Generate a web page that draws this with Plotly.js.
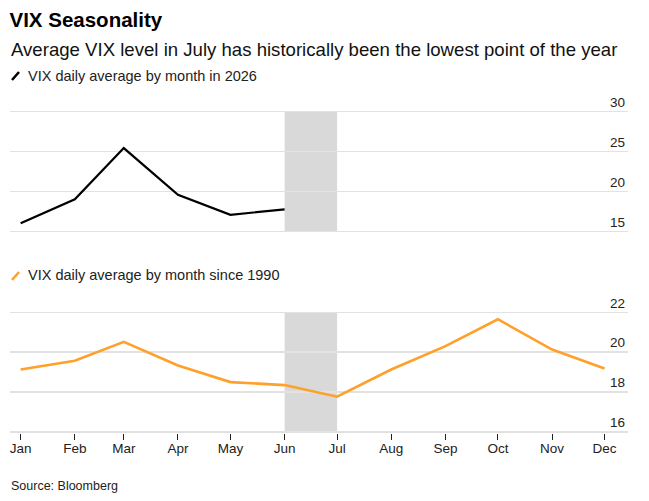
<!DOCTYPE html>
<html>
<head>
<meta charset="utf-8">
<script src="https://cdn.plot.ly/plotly-3.0.1.min.js"></script>
<style>html,body{margin:0;padding:0;background:#fff;}#chart{width:649px;height:501px;}</style>
</head>
<body>
<div id="chart"></div>
<script>
// Month start dates (x positions)
const months2026 = ["2026-01-01","2026-02-01","2026-03-01","2026-04-01","2026-05-01","2026-06-01"];
const monthsAll = ["2026-01-01","2026-02-01","2026-03-01","2026-04-01","2026-05-01","2026-06-01",
                   "2026-07-01","2026-08-01","2026-09-01","2026-10-01","2026-11-01","2026-12-01"];
const monthLabels = ["Jan","Feb","Mar","Apr","May","Jun","Jul","Aug","Sep","Oct","Nov","Dec"];
// VIX daily average by month in 2026
const vix2026 = [16.05, 19.05, 25.45, 19.6, 17.1, 17.8];
// VIX daily average by month since 1990
const vixSince1990 = [19.13, 19.57, 20.52, 19.33, 18.5, 18.35, 17.77, 19.13, 20.3, 21.65, 20.13, 19.18];
// Highlighted period (June)
const bandStart = "2026-06-01";
const bandEnd = "2026-07-01";
const topTicks = [15, 20, 25, 30];
const bottomTicks = [16, 18, 20, 22];

const font = "Liberation Sans, Arial, sans-serif";
const gridColor = "#e2e2e2";
const xRange = ["2025-12-25 22:00", "2026-12-14 10:00"];
const W = 649, H = 501;
const px = v => v / W;
const py = v => 1 - v / H;

const traces = [
  {x: months2026, y: vix2026, type: "scatter", mode: "lines",
   line: {color: "#000000", width: 2.2}, xaxis: "x2", yaxis: "y2", hoverinfo: "skip", showlegend: false},
  {x: monthsAll, y: vixSince1990, type: "scatter", mode: "lines",
   line: {color: "#ffa02a", width: 2.6}, xaxis: "x", yaxis: "y", hoverinfo: "skip", showlegend: false}
];

const yCommon = {
  side: "right", ticklabelposition: "inside top", showline: false, zeroline: false,
  gridcolor: gridColor, gridwidth: 1.5, ticks: "",
  tickfont: {family: font, size: 13.5, color: "#222"}, fixedrange: true
};

const layout = {
  width: W, height: H,
  margin: {l: 0, r: 0, t: 0, b: 0},
  paper_bgcolor: "#fff", plot_bgcolor: "#fff",
  showlegend: false,
  title: {text: "<b>VIX Seasonality</b>", x: px(9.5), xanchor: "left", xref: "paper",
          y: py(20), yanchor: "middle", yref: "paper",
          font: {family: font, size: 20.5, color: "#000"}},
  xaxis: {
    type: "date", range: xRange, domain: [px(10), px(628)], anchor: "y",
    tickvals: monthsAll, ticktext: monthLabels,
    ticks: "outside", ticklen: 6, tickcolor: "#222", tickwidth: 1, ticklabelstandoff: -3,
    showgrid: false, showline: false,
    tickfont: {family: font, size: 13.5, color: "#222"}, fixedrange: true
  },
  yaxis: Object.assign({}, yCommon, {
    range: [15.94, 23], domain: [py(433.2), py(292.3)], anchor: "x",
    tickvals: bottomTicks
  }),
  xaxis2: {
    type: "date", range: xRange, domain: [px(10), px(628)], anchor: "y2",
    showticklabels: false, ticks: "", showgrid: false,
    showline: false, fixedrange: true
  },
  yaxis2: Object.assign({}, yCommon, {
    range: [14.85, 32.5], domain: [py(232.9), py(91.7)], anchor: "x2",
    tickvals: topTicks
  }),
  shapes: [
    {type: "rect", xref: "x", yref: "y", x0: bandStart, x1: bandEnd, y0: 16, y1: 22,
     fillcolor: "rgba(160,160,160,0.4)", line: {width: 0}, layer: "below"},
    {type: "rect", xref: "x2", yref: "y2", x0: bandStart, x1: bandEnd, y0: 15, y1: 30,
     fillcolor: "rgba(160,160,160,0.4)", line: {width: 0}, layer: "below"},
    // legend key marks
    {type: "line", xref: "paper", yref: "paper", x0: px(12), x1: px(19), y0: py(80), y1: py(72),
     line: {color: "#000", width: 2.5}},
    {type: "line", xref: "paper", yref: "paper", x0: px(12), x1: px(19), y0: py(280), y1: py(272),
     line: {color: "#ffa02a", width: 2.5}}
  ],
  annotations: [
    {text: "Average VIX level in July has historically been the lowest point of the year",
     xref: "paper", yref: "paper", x: px(9), y: py(50), xanchor: "left", yanchor: "middle",
     showarrow: false, font: {family: font, size: 18.6, color: "#111"}},
    {text: "VIX daily average by month in 2026",
     xref: "paper", yref: "paper", x: px(26), y: py(76), xanchor: "left", yanchor: "middle",
     showarrow: false, font: {family: font, size: 14.5, color: "#222"}},
    {text: "VIX daily average by month since 1990",
     xref: "paper", yref: "paper", x: px(26), y: py(275), xanchor: "left", yanchor: "middle",
     showarrow: false, font: {family: font, size: 14.5, color: "#222"}},
    {text: "Source: Bloomberg",
     xref: "paper", yref: "paper", x: px(9), y: py(486), xanchor: "left", yanchor: "middle",
     showarrow: false, font: {family: font, size: 12.5, color: "#222"}}
  ]
};

Plotly.newPlot("chart", traces, layout, {displayModeBar: false, staticPlot: true});
</script>
</body>
</html>
